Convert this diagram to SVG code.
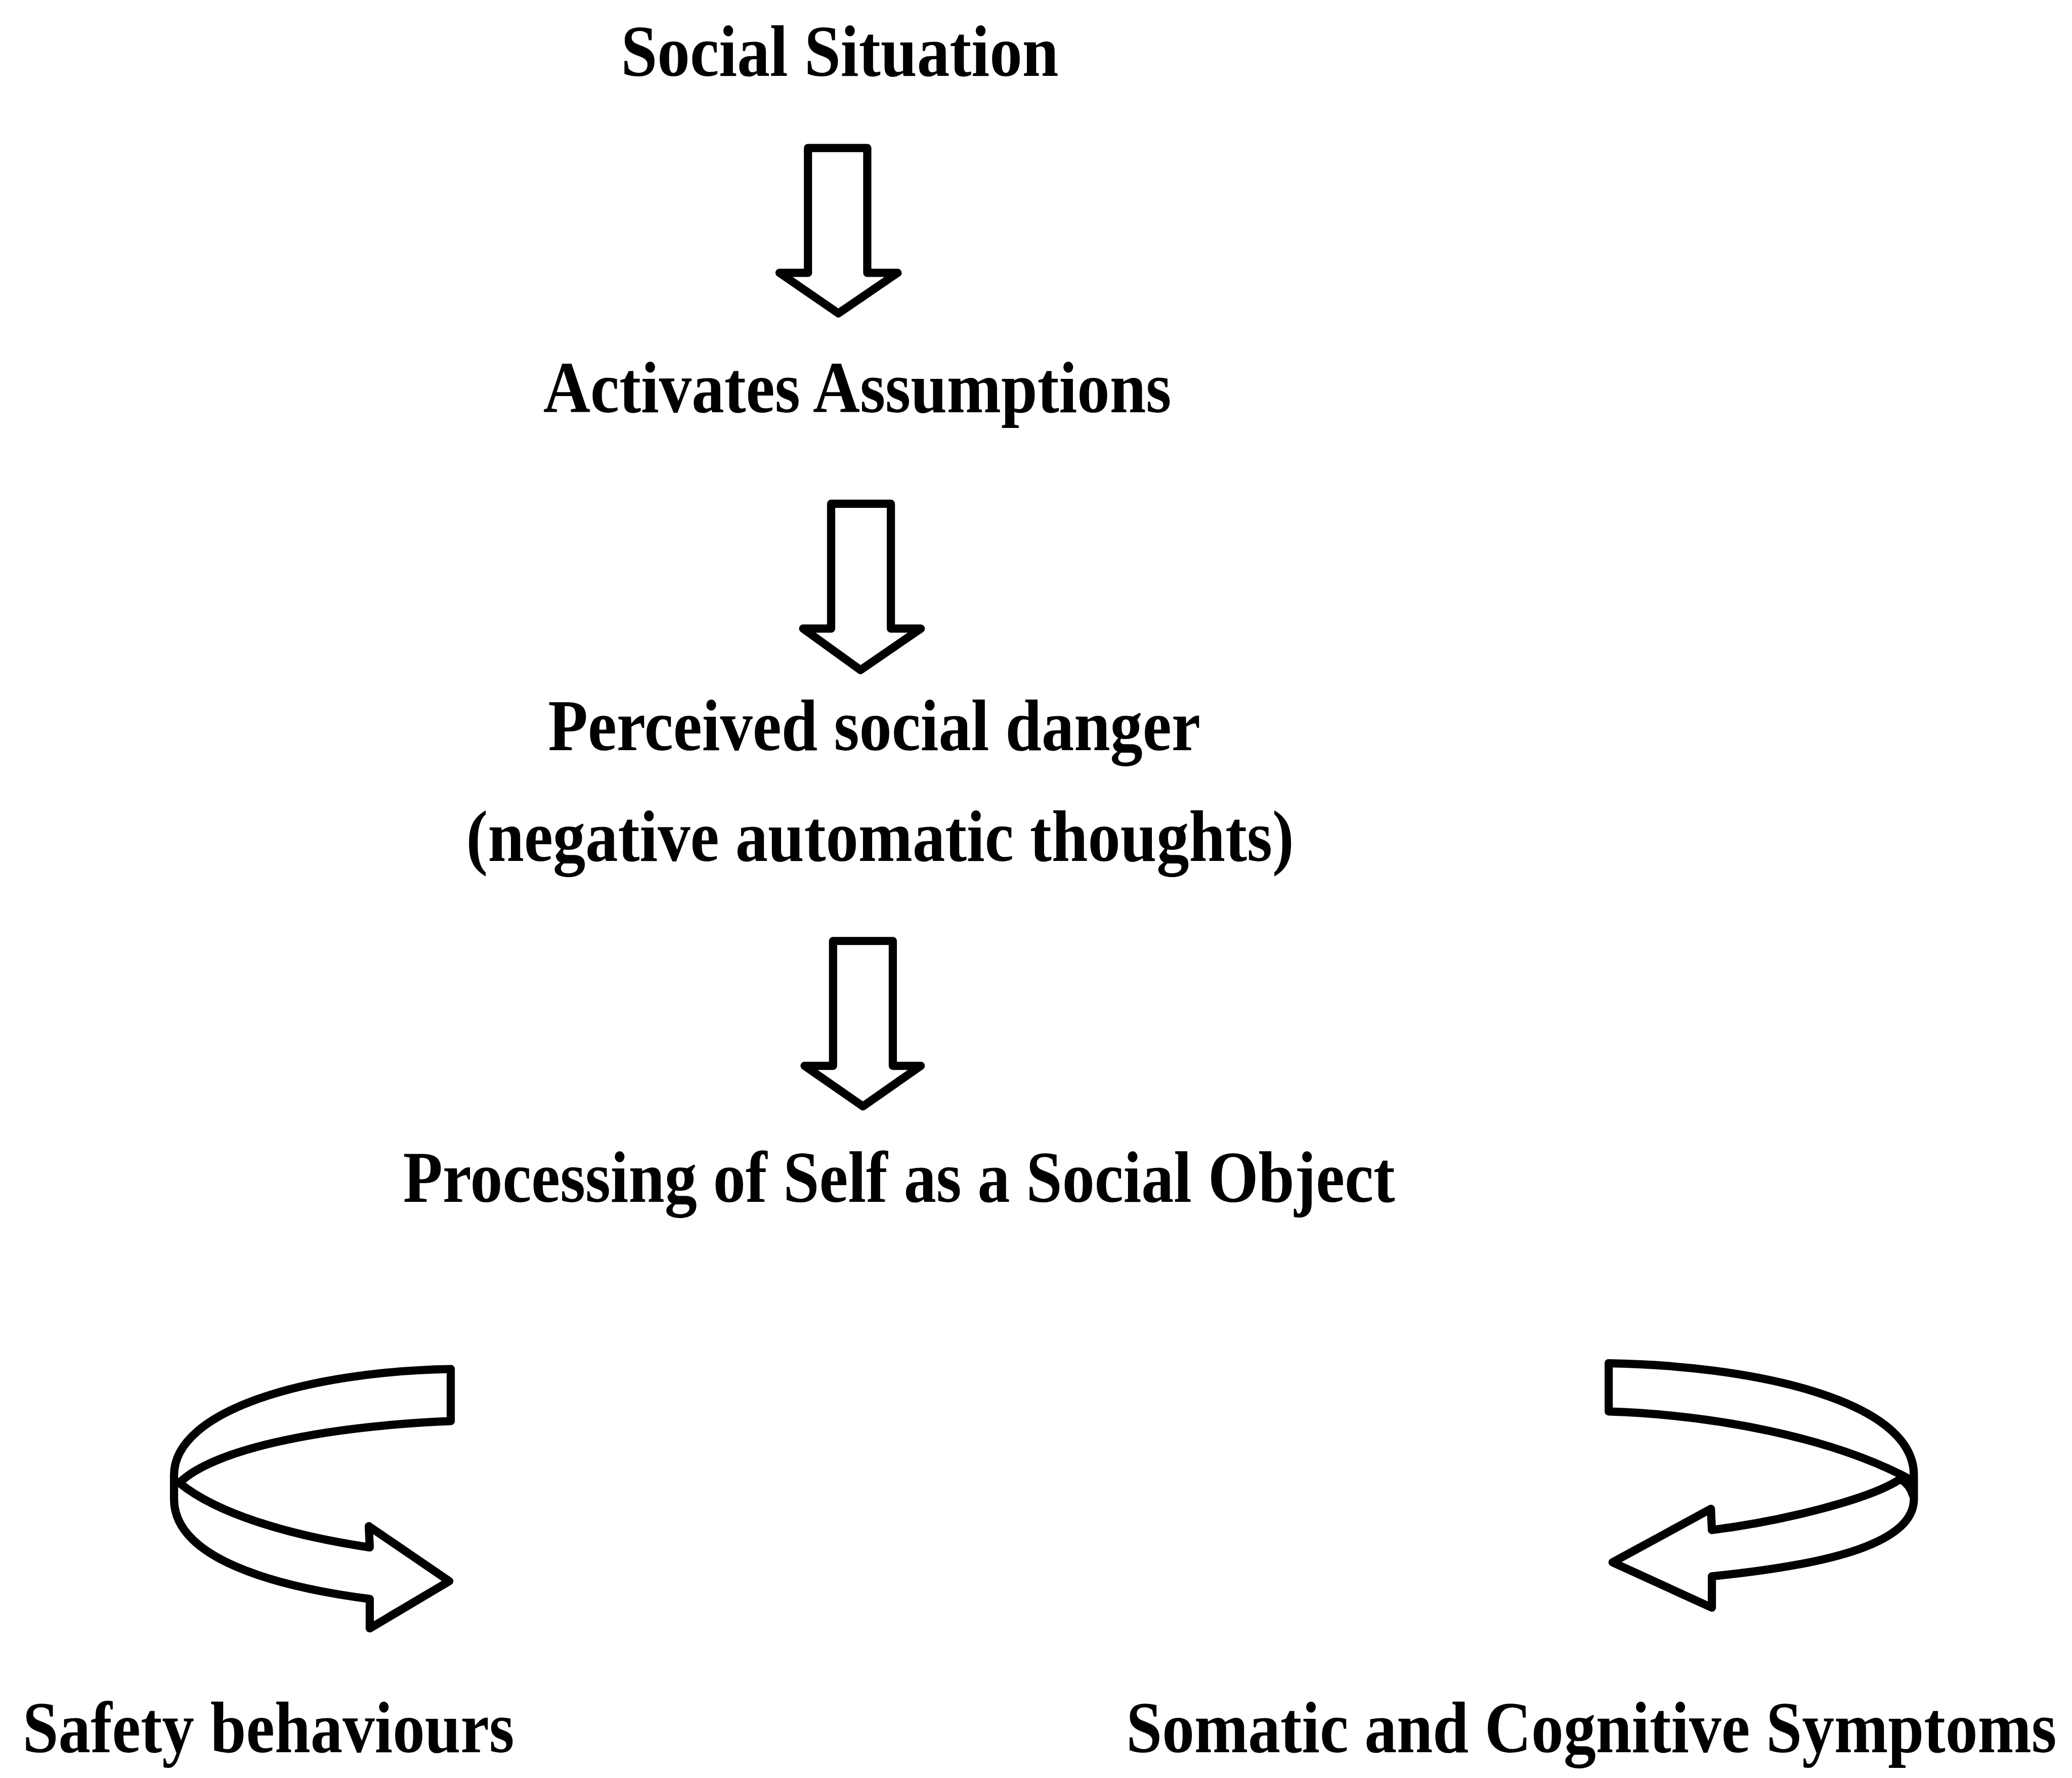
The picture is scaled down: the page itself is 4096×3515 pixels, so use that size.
<svg xmlns="http://www.w3.org/2000/svg" width="4096" height="3515" viewBox="0 0 4096 3515">
<style>
.lbl{font-family:"Liberation Serif","Times New Roman",serif;font-weight:bold;font-size:151px;fill:#000}
.ar{fill:#fff;stroke:#000;stroke-width:17;stroke-linejoin:round;stroke-linecap:round}
.ln{fill:none;stroke:#000;stroke-width:17;stroke-linejoin:round;stroke-linecap:round}
</style>
<rect width="4096" height="3515" fill="#fff"/>
<g transform="scale(0.953)">
<g id="connectors">
<path id="arrow1" class="ar" d="M1676,307 L1799,307 L1799,566 L1862,566 L1739,650 L1617,566 L1676,566 Z"/>
<path id="arrow2" class="ar" d="M1724,1045 L1848,1045 L1848,1304 L1910,1304 L1785,1390 L1666,1304 L1724,1304 Z"/>
<path id="arrow3" class="ar" d="M1728,1952 L1852,1952 L1852,2211 L1910,2211 L1790,2295 L1669,2211 L1728,2211 Z"/>
<g id="loop-left">
<path class="ln" d="M935,2840 C640,2845 361,2925 361,3060 L361,3110 C361,3230 560,3290 767,3317 L767,3378 L932,3280 L765,3166 L767,3210 C600,3185 450,3140 372,3076"/>
<path class="ln" d="M935,2840 L935,2948 C650,2960 440,3010 372,3076"/>
</g>
<g id="loop-right">
<path class="ln" d="M3337,2828 C3620,2832 3970,2900 3970,3060 L3970,3110 C3970,3200 3800,3245 3551,3270 L3551,3335 L3345,3241 L3549,3130 L3551,3174 C3700,3155 3880,3110 3942,3068 Q3962,3080 3968,3102"/>
<path class="ln" d="M3337,2828 L3337,2928 C3550,2935 3800,2980 3968,3072"/>
</g>
</g>
<g id="node-social-situation"><text class="lbl" transform="translate(1288,157) scale(0.898,1)">Social Situation</text></g>
<g id="node-assumptions"><text class="lbl" transform="translate(1127,855) scale(0.895,1)">Activates Assumptions</text></g>
<g id="node-danger">
<text class="lbl" transform="translate(1137,1556) scale(0.893,1)">Perceived social danger</text>
<text class="lbl" transform="translate(967,1786) scale(0.894,1)">(negative automatic thoughts)</text>
</g>
<g id="node-processing"><text class="lbl" transform="translate(836,2493) scale(0.89,1)">Processing of Self as a Social Object</text></g>
<g id="node-safety"><text class="lbl" transform="translate(47,3635) scale(0.884,1)">Safety behaviours</text></g>
<g id="node-symptoms"><text class="lbl" transform="translate(2336,3635) scale(0.8866,1)">Somatic and Cognitive Symptoms</text></g>
</g>
</svg>
